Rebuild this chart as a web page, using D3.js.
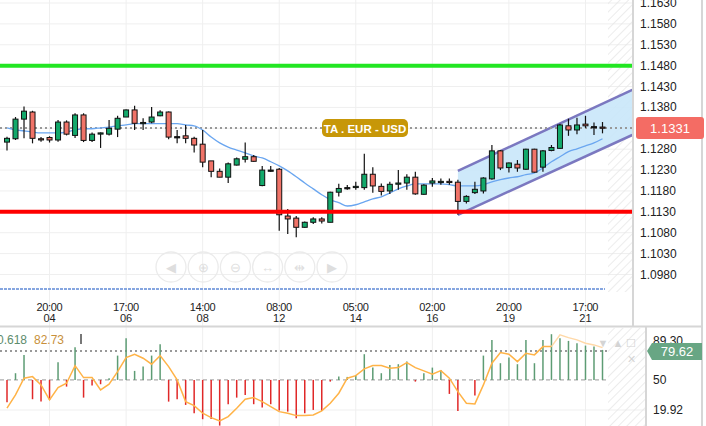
<!DOCTYPE html>
<html><head><meta charset="utf-8">
<script src="https://cdn.jsdelivr.net/npm/d3@7"></script>
<style>
body{margin:0;background:#fff;}
svg{display:block;font-family:"Liberation Sans",Arial,sans-serif;}
</style></head><body>
<svg id="chart" width="706" height="426"></svg>
<script>
// candles: open, high, low, close
var candles = [
[1.1297,1.1310,1.1277,1.1306],[1.1305,1.1357,1.1302,1.1352],[1.1352,1.1382,1.1306,1.1371],[1.1369,1.1372,1.1294,1.1306],
[1.1305,1.1309,1.1298,1.1304],[1.1308,1.1311,1.1296,1.1302],[1.1302,1.1350,1.1298,1.1345],[1.1345,1.1349,1.1313,1.1316],
[1.1313,1.1366,1.1307,1.1362],[1.1362,1.1366,1.1297,1.1301],[1.1301,1.1320,1.1297,1.1316],[1.1318,1.1320,1.1283,1.1319],
[1.1316,1.1350,1.1313,1.1330],[1.1328,1.1360,1.1309,1.1354],[1.1357,1.1375,1.1357,1.1374],[1.1374,1.1384,1.1326,1.1342],
[1.1343,1.1354,1.1326,1.1344],[1.1345,1.1381,1.1342,1.1357],[1.1360,1.1373,1.1359,1.1369],[1.1369,1.1370,1.1304,1.1309],
[1.1310,1.1326,1.1294,1.1310],[1.1312,1.1338,1.1294,1.1306],[1.1306,1.1310,1.1272,1.1290],[1.1292,1.1326,1.1237,1.1249],
[1.1252,1.1252,1.1213,1.1227],[1.1227,1.1234,1.1213,1.1213],[1.1213,1.1248,1.1199,1.1245],[1.1242,1.1260,1.1241,1.1257],
[1.1256,1.1296,1.1248,1.1262],[1.1262,1.1266,1.1250,1.1251],[1.1193,1.1240,1.1191,1.1230],[1.1230,1.1240,1.1226,1.1230],
[1.1232,1.1235,1.1085,1.1123],[1.1120,1.1137,1.1077,1.1113],[1.1115,1.1120,1.1069,1.1093],[1.1093,1.1107,1.1092,1.1105],
[1.1105,1.1117,1.1101,1.1113],[1.1113,1.1117,1.1102,1.1108],[1.1105,1.1178,1.1105,1.1177],[1.1177,1.1197,1.1167,1.1186],
[1.1188,1.1194,1.1183,1.1188],[1.1190,1.1202,1.1183,1.1191],[1.1188,1.1269,1.1183,1.1220],[1.1220,1.1237,1.1176,1.1192],
[1.1191,1.1198,1.1169,1.1179],[1.1180,1.1202,1.1173,1.1196],[1.1198,1.1230,1.1183,1.1199],[1.1199,1.1220,1.1183,1.1213],
[1.1213,1.1226,1.1171,1.1173],[1.1172,1.1196,1.1171,1.1194],[1.1199,1.1211,1.1190,1.1204],[1.1202,1.1210,1.1195,1.1203],
[1.1203,1.1210,1.1195,1.1202],[1.1201,1.1207,1.1123,1.1155],[1.1155,1.1170,1.1150,1.1167],[1.1176,1.1202,1.1173,1.1184],
[1.1180,1.1213,1.1174,1.1211],[1.1209,1.1290,1.1207,1.1276],[1.1276,1.1278,1.1230,1.1235],[1.1236,1.1248,1.1224,1.1247],
[1.1244,1.1254,1.1226,1.1235],[1.1232,1.1281,1.1231,1.1280],[1.1280,1.1281,1.1224,1.1225],[1.1237,1.1278,1.1226,1.1276],
[1.1277,1.1290,1.1275,1.1284],[1.1282,1.1341,1.1281,1.1338],[1.1336,1.1353,1.1312,1.1326],[1.1326,1.1355,1.1316,1.1338],
[1.1340,1.1360,1.1331,1.1336],[1.1334,1.1344,1.1314,1.1334],[1.1333,1.1345,1.1318,1.1331]
];
var maLine = [1.1331,1.1326,1.1324,1.1321,1.1319,1.1319,1.1319,1.1321,1.1326,1.1329,1.1329,1.1331,1.1333,1.1336,1.1338,1.1341,
1.1341,1.1341,1.1341,1.1341,1.1341,1.1338,1.1336,1.1326,1.1309,1.1295,1.1285,1.1278,1.1271,1.1264,1.1259,1.1250,1.1240,
1.1228,1.1214,1.1199,1.1185,1.1171,1.1159,1.1152,1.1144,1.1147,1.1154,1.1161,1.1166,1.1175,1.1185,1.1192,1.1197,1.1197,
1.1197,1.1197,1.1195,1.1192,1.1192,1.1192,1.1195,1.1202,1.1207,1.1211,1.1214,1.1219,1.1223,1.1235,1.1250,1.1262,1.1274,
1.1281,1.1288,1.1295,1.1305];
var histValues = [27.7,56.7,75,30.7,28.3,30,67.7,43.3,82.7,32.3,44.3,45.7,51.7,74.3,91.7,59,63.3,74.3,85.7,28.3,30.7,25,
16.7,10.7,11,4.3,25.7,32.3,35,25.7,22.3,25.7,19.3,18.3,11.7,16.7,20,19,48.3,53.3,53,55,75.7,62.3,56.7,65,65.7,68.3,48.3,
56.7,62.3,60,36,19,50,34.3,74.3,90,66.7,72.3,65.7,90,66.7,90,95.7,91.7,89,86.7,84.3,83.3,80];
var oscLine = [21.7,35,51.7,53.3,45,30,42.3,46.7,64.3,52.3,52.3,40,45.7,58.3,72.3,75.7,71.7,65.7,74.3,63.3,50,28.3,24.3,
16.7,12.3,9,13.3,21.7,30.7,32.3,28.3,23.3,18.3,16.7,14.3,14.3,15,19,26.7,36.7,51.7,54.3,61,64.3,64.3,61.7,62.3,67.3,62.3,
59,55.7,59.3,51.7,38.3,26.7,26,45,66.7,77.3,75.7,68.3,76.7,75,83.3,83.3,95,92.3,90,86.7,85,82.3];
var priceTicks = [1.1630,1.1580,1.1530,1.1480,1.1430,1.1380,1.1330,1.1280,1.1230,1.1180,1.1130,1.1080,1.1030,1.0980];
var timeTicks = [[5,"20:00","04"],[14,"17:00","06"],[23,"14:00","08"],[32,"08:00","12"],[41,"05:00","14"],[50,"02:00","16"],[59,"20:00","19"],[68,"17:00","21"]];
var support = 1.1130, resistance = 1.1480, lastPrice = 1.1331;
var channel = {start: 53, end: 73.5, lowA: 1.1123, lowB: 1.1314, upA: 1.1228, upB: 1.1422};

var svg = d3.select("#chart");
var x = d3.scaleLinear().domain([0, 70]).range([7, 602.5]);
var y = d3.scaleLinear().domain([1.0980, 1.1630]).range([274.5, 3]);
var yo = d3.scaleLinear().domain([19.92, 89.30]).range([410, 340.6]);
var W = 633, W2 = 646;

var defs = svg.append("defs");
var pat = defs.append("pattern").attr("id", "hatch").attr("width", 6).attr("height", 6)
	.attr("patternUnits", "userSpaceOnUse").attr("patternTransform", "rotate(45)");
pat.append("line").attr("x1", 0).attr("y1", 0).attr("x2", 0).attr("y2", 6).attr("stroke", "#e6e6e6").attr("stroke-width", 1.5);
defs.append("clipPath").attr("id", "clipTop").append("rect").attr("x", 0).attr("y", 0).attr("width", W).attr("height", 292);

// grid
var grid = svg.append("g");
grid.selectAll("line.h").data(priceTicks).enter().append("line")
	.attr("x1", 0).attr("x2", W).attr("y1", function(d) {return y(d);}).attr("y2", function(d) {return y(d);})
	.attr("stroke", "#efefef");
grid.selectAll("line.v").data(timeTicks).enter().append("line")
	.attr("x1", function(d) {return x(d[0]);}).attr("x2", function(d) {return x(d[0]);})
	.attr("y1", 0).attr("y2", 426).attr("stroke", "#efefef");
grid.selectAll("line.o").data([19.92]).enter().append("line")
	.attr("x1", 0).attr("x2", W2).attr("y1", function(d) {return yo(d);}).attr("y2", function(d) {return yo(d);}).attr("stroke", "#efefef");

// hatched future zone
svg.append("rect").attr("x", 608).attr("y", 0).attr("width", W - 608).attr("height", 292).attr("fill", "url(#hatch)");
svg.append("rect").attr("x", 608).attr("y", 328).attr("width", W2 - 608).attr("height", 98).attr("fill", "url(#hatch)");

var main = svg.append("g").attr("clip-path", "url(#clipTop)");

// channel
var cpts = [[channel.start, channel.lowA], [channel.end, channel.lowB], [channel.end, channel.upB], [channel.start, channel.upA]];
main.append("path").attr("d", d3.line().x(function(d) {return x(d[0]);}).y(function(d) {return y(d[1]);})(cpts) + "Z")
	.attr("fill", "#c9e7fa").attr("fill-opacity", 0.9);
main.append("line").attr("x1", x(channel.start)).attr("y1", y(channel.lowA)).attr("x2", x(channel.end)).attr("y2", y(channel.lowB))
	.attr("stroke", "#7b78c0").attr("stroke-width", 2.5);
main.append("line").attr("x1", x(channel.start)).attr("y1", y(channel.upA)).attr("x2", x(channel.end)).attr("y2", y(channel.upB))
	.attr("stroke", "#7b78c0").attr("stroke-width", 2.5);

// levels
main.append("line").attr("x1", 0).attr("x2", W).attr("y1", y(resistance)).attr("y2", y(resistance)).attr("stroke", "#22e622").attr("stroke-width", 4);
main.append("line").attr("x1", 0).attr("x2", W).attr("y1", y(lastPrice)).attr("y2", y(lastPrice))
	.attr("stroke", "#999").attr("stroke-width", 2).attr("stroke-dasharray", "2,3");

// moving average
main.append("path").datum(maLine).attr("fill", "none").attr("stroke", "#6aa6f0").attr("stroke-width", 1.3)
	.attr("d", d3.line().x(function(d, i) {return x(i);}).y(function(d) {return y(d);}).curve(d3.curveMonotoneX));

// candles
var c = main.selectAll("g.candle").data(candles).enter().append("g");
c.append("line").attr("x1", function(d, i) {return x(i);}).attr("x2", function(d, i) {return x(i);})
	.attr("y1", function(d) {return y(d[1]);}).attr("y2", function(d) {return y(d[2]);}).attr("stroke", "#111").attr("stroke-width", 1.2);
c.append("rect").attr("x", function(d, i) {return x(i) - 2.5;}).attr("width", 5)
	.attr("y", function(d) {return y(Math.max(d[0], d[3]));})
	.attr("height", function(d) {return Math.max(1.2, Math.abs(y(d[0]) - y(d[3])));})
	.attr("fill", function(d) {return d[3] > d[0] ? "#13a96b" : d[3] < d[0] ? "#f07368" : "#111";})
	.attr("stroke", "#111").attr("stroke-width", 1);

main.append("line").attr("x1", 0).attr("x2", W).attr("y1", y(support)).attr("y2", y(support)).attr("stroke", "#ff0000").attr("stroke-width", 4);

// symbol badge
svg.append("rect").attr("x", 322).attr("y", 119).attr("width", 86).attr("height", 18).attr("rx", 5).attr("fill", "#c79708");
svg.append("text").attr("x", 365).attr("y", 132.5).attr("text-anchor", "middle").attr("fill", "#fff")
	.attr("font-size", 11.5).attr("font-weight", "bold").text("TA . EUR - USD");

// nav buttons
var nav = ["◀", "⊕", "⊖", "↔", "⇹", "▶"];
svg.selectAll("g.nav").data(nav).enter().append("g").each(function(d, i) {
	var g = d3.select(this), cx = 171 + i * 32.2;
	g.append("circle").attr("cx", cx).attr("cy", 267).attr("r", 15).attr("fill", "none").attr("stroke", "#ebebeb").attr("stroke-width", 1.3);
	g.append("text").attr("x", cx).attr("y", 272).attr("text-anchor", "middle").attr("font-size", 13).attr("fill", "#dedede").text(d);
});

// dashed blue line
svg.append("line").attr("x1", 0).attr("x2", 605).attr("y1", 289).attr("y2", 289)
	.attr("stroke", "#86a6e0").attr("stroke-width", 2).attr("stroke-dasharray", "3,1");

// time axis
var tl = svg.selectAll("g.tl").data(timeTicks).enter().append("g");
tl.append("text").attr("x", function(d) {return x(d[0]);}).attr("y", 311).attr("text-anchor", "middle")
	.attr("font-size", 11).attr("fill", "#222").attr("textLength", 26).text(function(d) {return d[1];});
tl.append("text").attr("x", function(d) {return x(d[0]);}).attr("y", 322).attr("text-anchor", "middle")
	.attr("font-size", 11).attr("fill", "#222").text(function(d) {return d[2];});

// panel frames
svg.append("line").attr("x1", W).attr("x2", W).attr("y1", 0).attr("y2", 326).attr("stroke", "#d6d6d6").attr("stroke-width", 2);
svg.append("line").attr("x1", 0).attr("x2", 702).attr("y1", 326.5).attr("y2", 326.5).attr("stroke", "#d6d6d6").attr("stroke-width", 2);
svg.append("line").attr("x1", W2).attr("x2", W2).attr("y1", 327).attr("y2", 426).attr("stroke", "#d6d6d6").attr("stroke-width", 2);
svg.append("line").attr("x1", 702).attr("x2", 702).attr("y1", 0).attr("y2", 426).attr("stroke", "#d6d6d6").attr("stroke-width", 2);

// price axis labels
svg.selectAll("text.pt").data(priceTicks).enter().append("text")
	.attr("x", 640).attr("y", function(d) {return y(d) + 4;}).attr("font-size", 12).attr("fill", "#222")
	.text(function(d) {return d.toFixed(4);});
svg.append("rect").attr("x", 636).attr("y", 117).attr("width", 68).attr("height", 22).attr("rx", 3).attr("fill", "#f46c64");
svg.append("text").attr("x", 670).attr("y", 132.5).attr("text-anchor", "middle").attr("font-size", 13).attr("fill", "#fff").text(lastPrice.toFixed(4));

// oscillator panel
var bot = svg.append("g");
bot.append("line").attr("x1", 0).attr("x2", 608).attr("y1", yo(50)).attr("y2", yo(50)).attr("stroke", "#999").attr("stroke-dasharray", "4,3");
bot.append("line").attr("x1", 0).attr("x2", 608).attr("y1", 351).attr("y2", 351).attr("stroke", "#999").attr("stroke-width", 2).attr("stroke-dasharray", "2,3");
bot.selectAll("line.hist").data(histValues).enter().append("line")
	.attr("x1", function(d, i) {return x(i);}).attr("x2", function(d, i) {return x(i);})
	.attr("y1", yo(50)).attr("y2", function(d) {return yo(d);})
	.attr("stroke", function(d) {return d >= 50 ? "#5d9c74" : "#e02828";}).attr("stroke-width", 1.5);
var oLine = d3.line().x(function(d) {return x(d[0]);}).y(function(d) {return yo(d[1]);});
var oPts = oscLine.map(function(d, i) {return [i, d];});
bot.append("path").attr("d", oLine(oPts.slice(0, 65))).attr("fill", "none").attr("stroke", "#ffb347").attr("stroke-width", 1.5);
bot.append("path").attr("d", oLine(oPts.slice(64))).attr("fill", "none").attr("stroke", "#ffd9a8").attr("stroke-width", 1.5);
svg.append("text").attr("x", -3).attr("y", 344).attr("font-size", 12).attr("fill", "#5d8c6c").text("0.618");
svg.append("text").attr("x", 34).attr("y", 344).attr("font-size", 12).attr("fill", "#c8903a").text("82.73");
svg.append("rect").attr("x", 80).attr("y", 334).attr("width", 2).attr("height", 10).attr("fill", "#777");
svg.selectAll("text.ic").data([["▼", 603, 347], ["▲", 618, 347], ["☐", 631, 347], ["✕", 631, 363]]).enter().append("text")
	.attr("x", function(d) {return d[1];}).attr("y", function(d) {return d[2];}).attr("text-anchor", "middle")
	.attr("font-size", 11).attr("fill", "#d4d4d4").text(function(d) {return d[0];});
svg.selectAll("text.ot").data([89.30, 50, 19.92]).enter().append("text")
	.attr("x", 653).attr("y", function(d) {return yo(d) + 4;}).attr("font-size", 12).attr("fill", "#222")
	.text(function(d) {return d === 50 ? "50" : d.toFixed(2);});
svg.append("path").attr("d", "M647,351 L652,343 L702,343 L702,360 L652,360 Z").attr("fill", "#68a684");
svg.append("text").attr("x", 677).attr("y", 356).attr("text-anchor", "middle").attr("font-size", 13).attr("fill", "#fff").text("79.62");
</script>
</body></html>
